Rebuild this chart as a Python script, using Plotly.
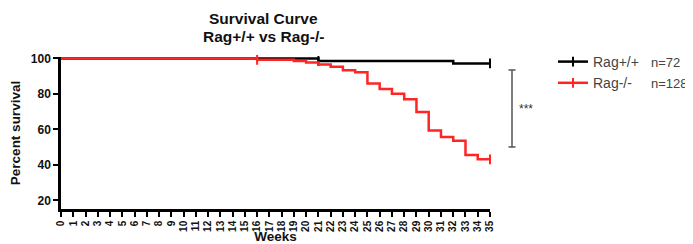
import plotly.graph_objects as go

# ---- data ----
weeks_wt = [0, 21, 32, 35]
surv_wt = [100, 98.6, 97.2, 97.2]
censor_wt = [21, 35]

weeks_ko = [0, 16, 19, 20, 21, 22, 23, 24, 25, 26, 27, 28, 29, 30, 31, 32, 33, 34, 35]
surv_ko = [100, 99.2, 98.5, 97.7, 96.6, 95.3, 93.4, 92.2, 85.9, 82.8, 80.1, 77.0,
           69.8, 59.4, 55.8, 53.6, 45.6, 43.2, 43.2]
censor_ko = [16, 35]

names = ["Rag+/+", "Rag-/-"]
counts = ["n=72", "n=128"]
x_ticks = list(range(0, 36))
y_ticks = [20, 40, 60, 80, 100]

BLACK = "#000000"
RED = "#ff2525"

# the page body has an 8px margin, so the figure is drawn 8px in from the window edge
OFF = 8
WIN_W, WIN_H = 693, 244
W, H = WIN_W - OFF, WIN_H - OFF
# plot area in window pixels: left 61, right 490, top ~56.6, bottom 209
ML = 61 - OFF
MR = W - (490 - OFF)
MT = 49
MB = H - (209 - OFF)
PW, PH = W - ML - MR, H - MT - MB
FONT = "Arial, Liberation Sans, sans-serif"


def px_x(p):  # window pixel -> paper x
    return (p - OFF - ML) / PW


def px_y(p):  # window pixel -> paper y
    return (H - MB - (p - OFF)) / PH


def lookup(weeks, surv, w):
    return surv[weeks.index(w)]


fig = go.Figure()

for wk, sv, cen, col in [(weeks_wt, surv_wt, censor_wt, BLACK),
                         (weeks_ko, surv_ko, censor_ko, RED)]:
    fig.add_trace(go.Scatter(x=wk, y=sv, mode="lines", line=dict(color=col, width=2.5, shape="hv"),
                             showlegend=False, hoverinfo="skip"))
    fig.add_trace(go.Scatter(x=cen, y=[lookup(wk, sv, c) for c in cen], mode="markers",
                             marker=dict(symbol="line-ns-open", size=7, color=col,
                                         line=dict(color=col, width=2)),
                             showlegend=False, cliponaxis=False, hoverinfo="skip"))

# legend entries
for nm, col in zip(names, [BLACK, RED]):
    fig.add_trace(go.Scatter(x=[None], y=[None], mode="lines+markers", name=nm,
                             line=dict(color=col, width=2.5),
                             marker=dict(symbol="line-ns-open", size=7, color=col,
                                         line=dict(color=col, width=2))))

annotations = [
    dict(text="<b>Survival Curve</b>", x=px_x(263), y=px_y(18.2), xref="paper", yref="paper",
         showarrow=False, xanchor="center", yanchor="middle",
         font=dict(family=FONT, size=15.5, color="#111")),
    dict(text="<b>Rag+/+ vs Rag-/-</b>", x=px_x(263), y=px_y(36), xref="paper", yref="paper",
         showarrow=False, xanchor="center", yanchor="middle",
         font=dict(family=FONT, size=15.5, color="#111")),
    dict(text="***", x=px_x(517), y=px_y(109), xref="paper", yref="paper",
         showarrow=False, xanchor="left", yanchor="middle",
         font=dict(family=FONT, size=12, color="#333")),
]
for cnt, yp in zip(counts, [62, 83]):
    annotations.append(dict(text=cnt, x=px_x(649), y=px_y(yp), xref="paper", yref="paper",
                            showarrow=False, xanchor="left", yanchor="middle",
                            font=dict(family=FONT, size=13, color="#444")))

bx, btop, bbot, cap = 512, 70, 147, 3.5
shapes = [
    dict(type="line", xref="paper", yref="paper", x0=px_x(bx), x1=px_x(bx), y0=px_y(btop), y1=px_y(bbot),
         line=dict(color="#555", width=1.5)),
    dict(type="line", xref="paper", yref="paper", x0=px_x(bx - cap), x1=px_x(bx + cap), y0=px_y(btop), y1=px_y(btop),
         line=dict(color="#555", width=1.5)),
    dict(type="line", xref="paper", yref="paper", x0=px_x(bx - cap), x1=px_x(bx + cap), y0=px_y(bbot), y1=px_y(bbot),
         line=dict(color="#555", width=1.5)),
]

fig.update_layout(
    width=W, height=H,
    margin=dict(l=ML, r=MR, t=MT, b=MB, pad=0, autoexpand=False),
    paper_bgcolor="white", plot_bgcolor="white",
    font=dict(family=FONT, color="#111"),
    annotations=annotations, shapes=shapes,
    legend=dict(xref="container", yref="container", x=(553 - OFF) / W, y=1 - (46 - OFF) / H,
                xanchor="left", yanchor="top",
                font=dict(family=FONT, size=14, color="#444"),
                bgcolor="rgba(0,0,0,0)", itemwidth=30, tracegroupgap=0),
    xaxis=dict(range=[0, 35], tickmode="array", tickvals=x_ticks, ticktext=[str(v) for v in x_ticks],
               tickangle=-90, ticks="outside", ticklen=5, tickwidth=2, tickcolor="black",
               showline=True, linecolor="black", linewidth=2.5, showgrid=False, zeroline=False,
               automargin=False,
               tickfont=dict(family=FONT, size=10, color="#111", weight="bold"),
               title=dict(text="<b>Weeks</b>", standoff=2,
                          font=dict(family=FONT, size=13.5, color="#111"))),
    yaxis=dict(range=[15.2, 100.8], tickmode="array", tickvals=y_ticks,
               ticks="outside", ticklen=5, tickwidth=2, tickcolor="black",
               showline=True, linecolor="black", linewidth=2.5, showgrid=False, zeroline=False,
               automargin=False,
               tickfont=dict(family=FONT, size=12, color="#111", weight="bold"),
               title=dict(text="<b>Percent survival</b>", standoff=8,
                          font=dict(family=FONT, size=13.5, color="#111"))),
)

fig.write_html("out.html")
